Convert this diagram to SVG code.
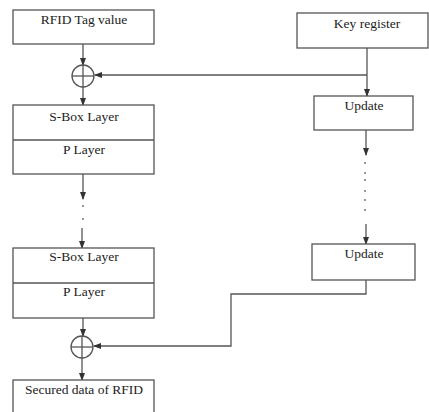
<svg xmlns="http://www.w3.org/2000/svg" width="429" height="412" viewBox="0 0 429 412">
<defs>
<style>
.box{fill:#fff;stroke:#555;stroke-width:1.3}
.ln{fill:none;stroke:#555;stroke-width:1.3}
.t{font-family:'Liberation Serif','DejaVu Serif','Times New Roman',serif;font-size:13.5px;fill:#222;text-anchor:middle}
.dot{fill:#666}
</style>
<marker id="ah" markerWidth="8" markerHeight="8" viewBox="0 0 8 8" refX="7" refY="4" orient="auto" markerUnits="userSpaceOnUse">
<path d="M0,1 L8,4 L0,7 Z" fill="#333"/>
</marker>
</defs>
<rect width="429" height="412" fill="#fff"/>
<g id="connectors">
<line class="ln" x1="83" y1="44" x2="83" y2="65" marker-end="url(#ah)"/>
<line class="ln" x1="83" y1="87" x2="83" y2="105" marker-end="url(#ah)"/>
<line class="ln" x1="367" y1="48" x2="367" y2="96" marker-end="url(#ah)"/>
<line class="ln" x1="367" y1="75" x2="95" y2="75" marker-end="url(#ah)"/>
<line class="ln" x1="83" y1="174" x2="83" y2="199" marker-end="url(#ah)"/>
<line class="ln" x1="82" y1="228" x2="82" y2="248" marker-end="url(#ah)"/>
<line class="ln" x1="366" y1="130" x2="366" y2="155" marker-end="url(#ah)"/>
<line class="ln" x1="366" y1="224" x2="366" y2="244" marker-end="url(#ah)"/>
<line class="ln" x1="83" y1="318" x2="83" y2="336" marker-end="url(#ah)"/>
<line class="ln" x1="82" y1="358" x2="82" y2="380" marker-end="url(#ah)"/>
<polyline class="ln" points="366,280 366,294 231,294 231,346 94,346" marker-end="url(#ah)"/>
<g class="dot">
<circle cx="83" cy="206" r="0.9"/><circle cx="83" cy="219" r="0.9"/>
<circle cx="365" cy="163" r="0.9"/><circle cx="365" cy="173" r="0.9"/><circle cx="365" cy="180" r="0.9"/><circle cx="365" cy="191" r="0.9"/><circle cx="365" cy="200" r="0.9"/><circle cx="365" cy="210" r="0.9"/>
</g>
</g>
<g id="xor1">
<circle class="ln" cx="83" cy="76" r="11"/>
<line class="ln" x1="72" y1="76" x2="94" y2="76"/>
<line class="ln" x1="83" y1="65" x2="83" y2="87"/>
</g>
<g id="xor2">
<circle class="ln" cx="82" cy="347" r="11"/>
<line class="ln" x1="71" y1="347" x2="93" y2="347"/>
<line class="ln" x1="82" y1="336" x2="82" y2="358"/>
</g>
<g id="rfid-tag">
<rect class="box" x="13" y="10" width="141" height="34"/>
<text class="t" x="84" y="24">RFID Tag value</text>
</g>
<g id="key-register">
<rect class="box" x="297" y="13" width="131" height="35"/>
<text class="t" x="367" y="28">Key register</text>
</g>
<g id="update1">
<rect class="box" x="314" y="96" width="99" height="34"/>
<text class="t" x="364" y="110">Update</text>
</g>
<g id="round1">
<rect class="box" x="13" y="105" width="141" height="69"/>
<line class="ln" x1="13" y1="140" x2="154" y2="140"/>
<text class="t" x="84" y="121">S-Box Layer</text>
<text class="t" x="84" y="154">P Layer</text>
</g>
<g id="update2">
<rect class="box" x="312" y="244" width="103" height="36"/>
<text class="t" x="364" y="258">Update</text>
</g>
<g id="round2">
<rect class="box" x="13" y="248" width="141" height="70"/>
<line class="ln" x1="13" y1="283" x2="154" y2="283"/>
<text class="t" x="84" y="261">S-Box Layer</text>
<text class="t" x="84" y="296">P Layer</text>
</g>
<g id="secured">
<rect class="box" x="13" y="380" width="141" height="40"/>
<text class="t" x="84" y="394">Secured data of RFID</text>
</g>
</svg>
